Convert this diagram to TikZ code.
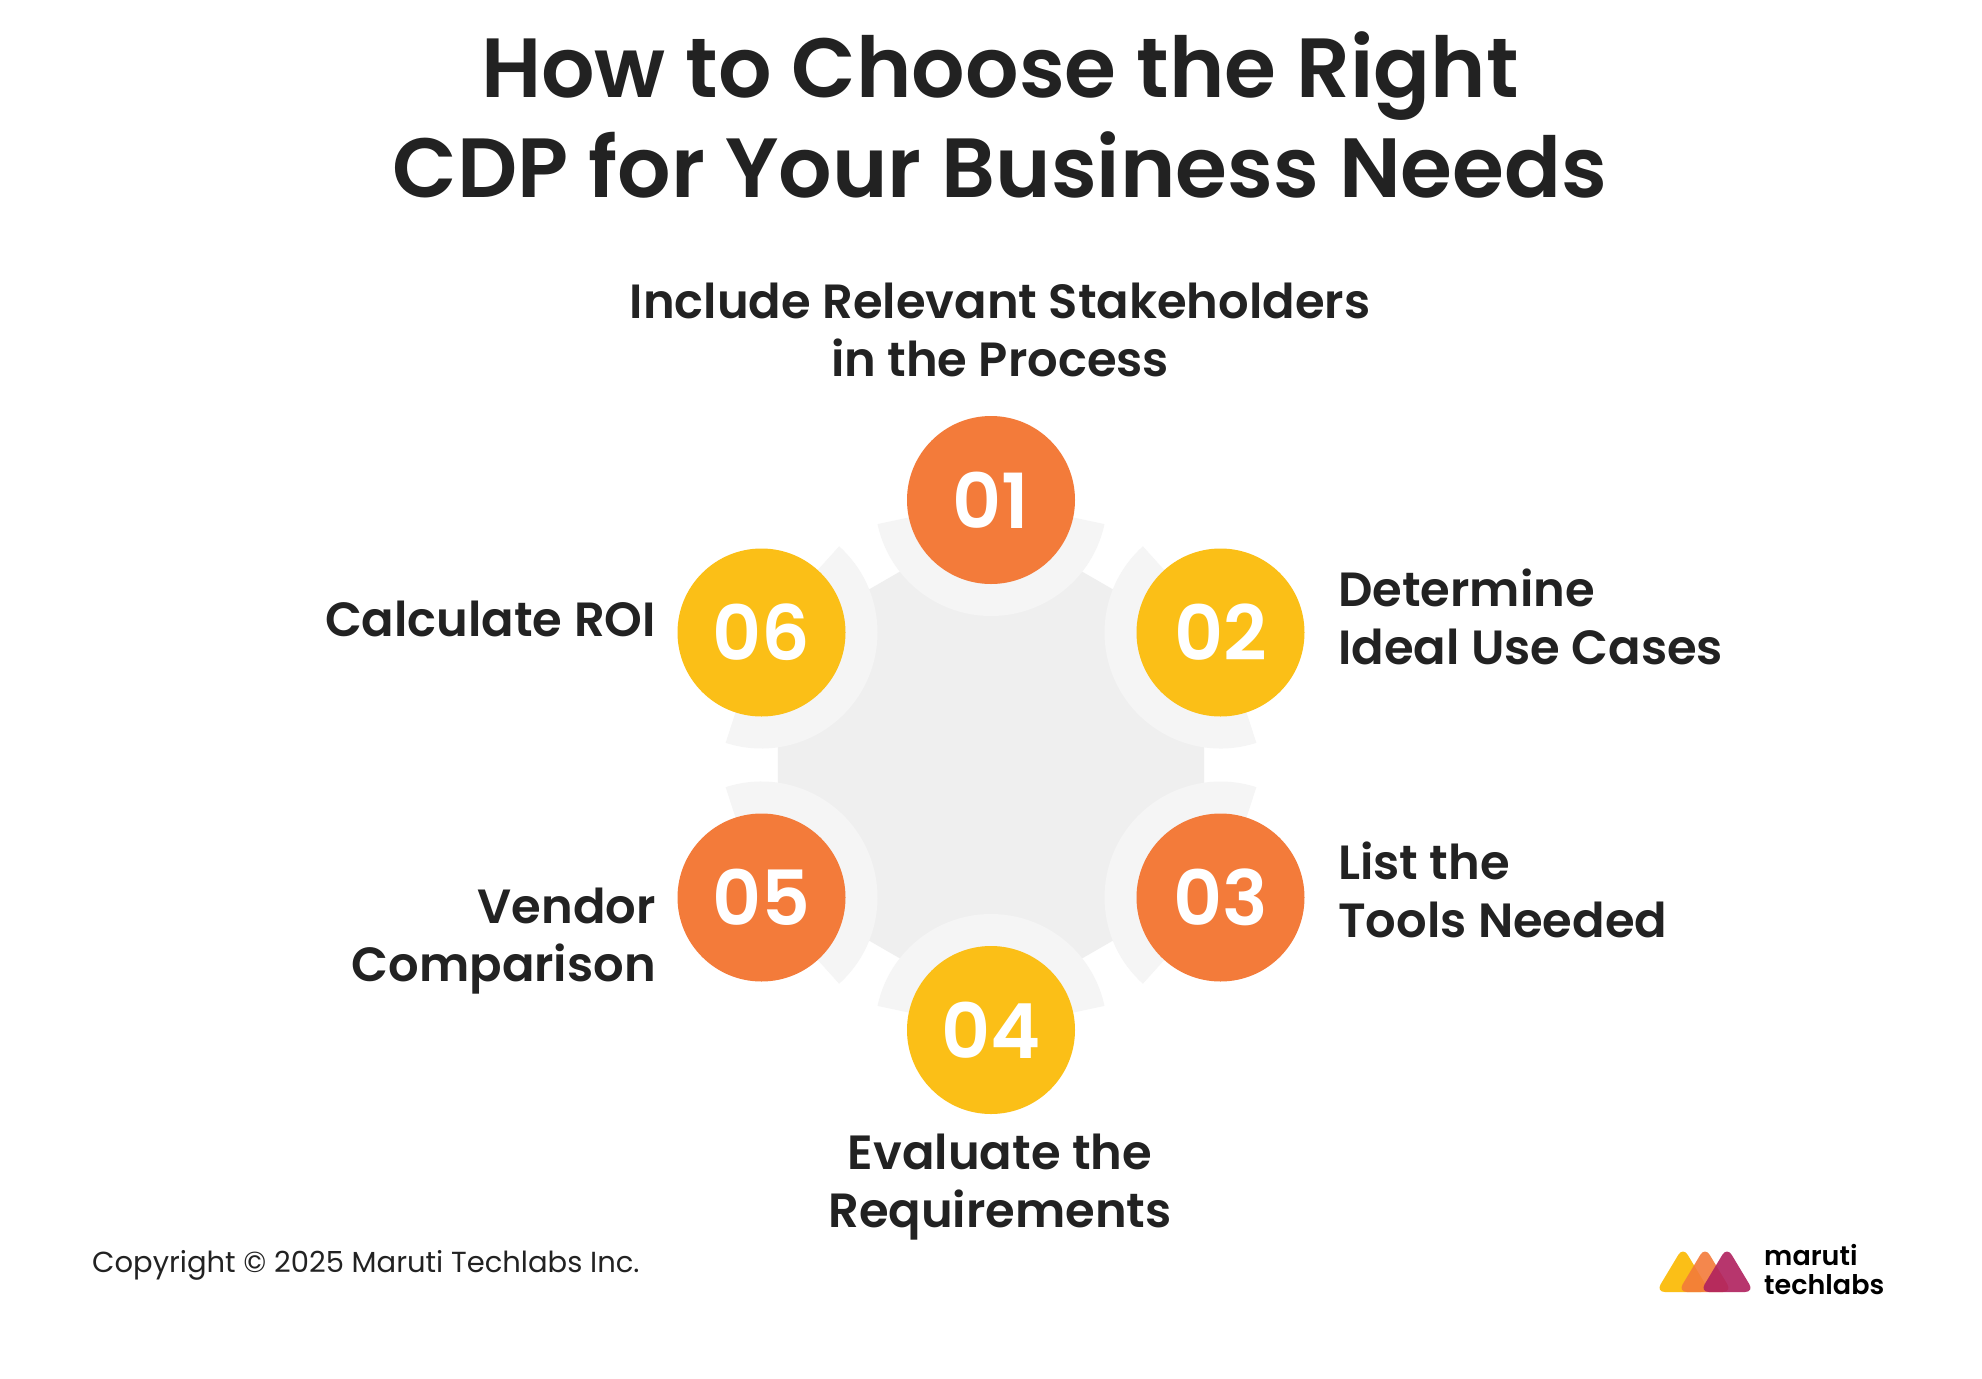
\documentclass[tikz,border=0pt]{standalone}
\usepackage{fontspec}
\setmainfont[BoldFont={Poppins SemiBold}]{Poppins}
\usetikzlibrary{calc}
\definecolor{org}{HTML}{F37B3A}
\definecolor{yel}{HTML}{FBBF17}
\definecolor{txt}{HTML}{222222}
\definecolor{hexc}{HTML}{EFEFEF}
\definecolor{ringc}{HTML}{F5F5F5}
\definecolor{mag}{HTML}{B0215E}
\begin{document}
\begin{tikzpicture}[x=1pt,y=-1pt,
  numc/.style={circle,minimum size=168pt,inner sep=0pt,text=white,font=\fontsize{76}{76}\selectfont\bfseries},
  lbl/.style={text=txt,font=\fontsize{48}{58}\selectfont\bfseries,inner sep=0pt}]
\useasboundingbox (0,0) rectangle (1982,1379);
\fill[white] (0,0) rectangle (1982,1379);
\coordinate (ctr) at (991,765);
% hexagon
\fill[hexc] ($(ctr)+(30:246)$) -- ($(ctr)+(-30:246)$) -- ($(ctr)+(-90:246)$) -- ($(ctr)+(-150:246)$) -- ($(ctr)+(150:246)$) -- ($(ctr)+(90:246)$) -- cycle;
% rings and circles
\foreach \n/\a/\c in {01/-90/org,02/-30/yel,03/30/org,04/90/yel,05/150/org,06/210/yel}{
  \coordinate (p\n) at ($(ctr)+(\a:265)$);
  \pgfmathsetmacro{\s}{\a+180-78}
  \pgfmathsetmacro{\e}{\a+180+78}
  \fill[ringc] ($(p\n)+(\s:116)$) arc[start angle=\s,end angle=\e,radius=116] -- ($(p\n)+(\e:84)$) arc[start angle=\e,end angle=\s,radius=84] -- cycle;
  \node[numc,fill=\c] (c\n) at (p\n) {\n};
}
% title
\node[text=txt,font=\fontsize{84}{100}\selectfont\bfseries,align=center] (title) at (1000,115) {How to Choose the Right\\CDP for Your Business Needs};
% labels
\node[lbl,align=center,anchor=base] (l1) at (1000,376) {Include Relevant Stakeholders\\in the Process};
\node[lbl,align=left,anchor=base west] (l2) at (1338,664) {Determine\\Ideal Use Cases};
\node[lbl,align=left,anchor=base west] (l3) at (1338,937) {List the\\Tools Needed};
\node[lbl,align=center,anchor=base] (l4) at (1000,1227) {Evaluate the\\Requirements};
\node[lbl,align=right,anchor=base east] (l5) at (656,981) {Vendor\\Comparison};
\node[lbl,anchor=base east] (l6) at (656,636) {Calculate ROI};
% footer
\node[text=txt,font=\fontsize{29}{29}\selectfont,anchor=base west,inner sep=0pt] (copy) at (92,1272) {Copyright © 2025 Maruti Techlabs Inc.};
% logo
\begin{scope}[rounded corners=9pt]
\fill[yel] (1656,1292) -- (1683,1247) -- (1710,1292) -- cycle;
\fill[org,opacity=.9] (1678,1292) -- (1705,1247) -- (1732,1292) -- cycle;
\fill[mag,opacity=.9] (1700,1292) -- (1727,1247) -- (1754,1292) -- cycle;
\end{scope}
\node[text=black,font=\fontsize{27}{29}\selectfont\bfseries,align=left,anchor=west,inner sep=0pt] (logo) at (1764,1270) {maruti\\techlabs};
\end{tikzpicture}
\end{document}
